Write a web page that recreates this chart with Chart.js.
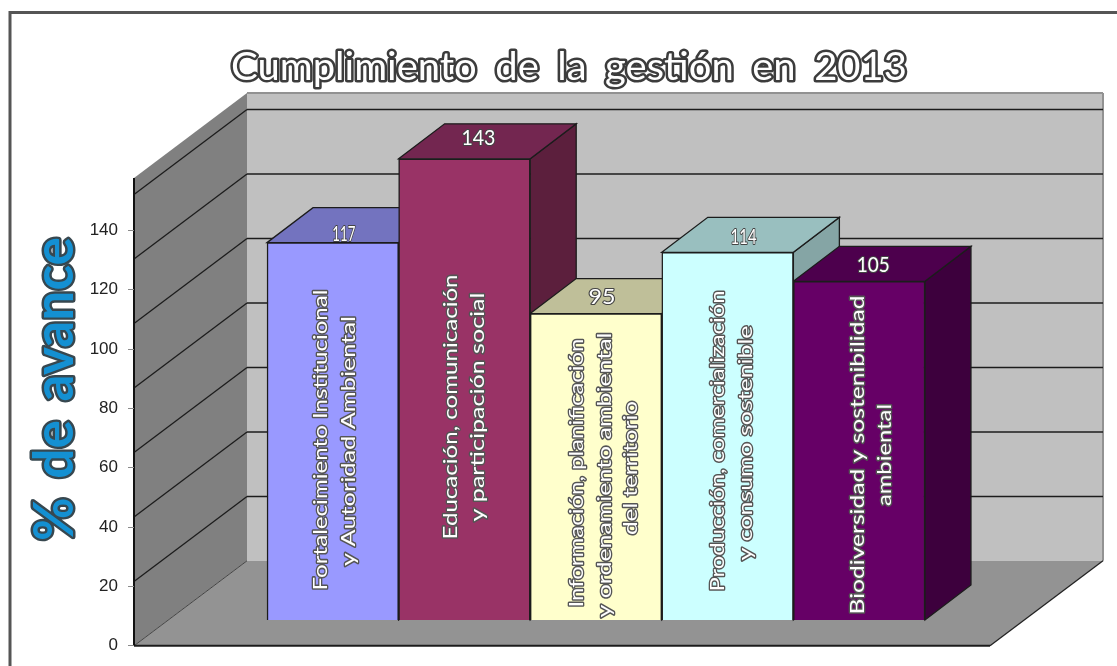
<!DOCTYPE html>
<html lang="es">
<head>
    <meta charset="UTF-8">
    <title>Cumplimiento de la gestión en 2013</title>
    <script src="https://cdn.jsdelivr.net/npm/chart.js"></script>
    <style>
        body { margin: 0; background: #fff; }
        canvas { display: block; }
    </style>
</head>
<body>
    <canvas id="gestion" width="1117" height="666"></canvas>

    <script>
        // Data
        const categories = [
            ['Fortalecimiento Institucional', 'y Autoridad Ambiental'],
            ['Educación, comunicación', 'y participación social'],
            ['Información, planificación', 'y ordenamiento ambiental', 'del territorio'],
            ['Producción, comercialización', 'y consumo sostenible'],
            ['Biodiversidad y sostenibilidad', 'ambiental']
        ];
        const avance = [117, 143, 95, 114, 105];
        const axisTicks = [0, 20, 40, 60, 80, 100, 120, 140];
        const gridValues = [20, 40, 60, 80, 100, 120, 140];

        // Bar colours: front, top face, side face
        const frontColors = ['#9999ff', '#993366', '#ffffcc', '#ccffff', '#660066'];
        const topColors = ['#7373bf', '#732650', '#bfbf99', '#99bfbf', '#4d004d'];
        const sideColors = ['#5b5b99', '#5c1f3d', '#99997a', '#85a5a5', '#3d003d'];

        // 3D box settings
        const wallDepth = { dx: 113, dy: -85 };
        const barDepth = { dx: 46, dy: -35 };
        const barsToBackWall = -59;

        // Text inside each bar: baseline offset from bar centre, vertical centre, line lengths
        const barText = [
            { offsets: [-6, 22], centers: [440, 441], lengths: [301, 250] },
            { offsets: [-7, 20], centers: [407, 407], lengths: [265, 229] },
            { offsets: [-13, 15, 41], centers: [473, 475, 468], lengths: [269, 285, 134] },
            { offsets: [-4, 24], centers: [441, 443], lengths: [301, 235] },
            { offsets: [5, 32], centers: [455, 455], lengths: [319, 102] }
        ];
        // Value on the top face: centre x shift, baseline y shift from bar top, width
        const valueText = [
            { dx: 11, dy: -2, width: 23 },
            { dx: 14, dy: -14, width: 34 },
            { dx: 6, dy: -10, width: 27 },
            { dx: 16, dy: -8, width: 26 },
            { dx: 14, dy: -9, width: 33 }
        ];

        function polygon(ctx, points, fill, stroke, lineWidth) {
            ctx.beginPath();
            points.forEach((p, i) => i ? ctx.lineTo(p[0], p[1]) : ctx.moveTo(p[0], p[1]));
            ctx.closePath();
            ctx.fillStyle = fill;
            ctx.fill();
            if (stroke) {
                ctx.strokeStyle = stroke;
                ctx.lineWidth = lineWidth;
                ctx.stroke();
            }
        }

        function line(ctx, x1, y1, x2, y2, color, width) {
            ctx.beginPath();
            ctx.moveTo(x1, y1);
            ctx.lineTo(x2, y2);
            ctx.strokeStyle = color;
            ctx.lineWidth = width;
            ctx.stroke();
        }

        // Outlined text stretched to a given length, centred on x along its direction
        function outlinedText(ctx, text, x, y, length, opts) {
            ctx.save();
            ctx.translate(x, y);
            if (opts.vertical) ctx.rotate(-Math.PI / 2);
            ctx.font = opts.font;
            ctx.wordSpacing = opts.wordSpacing || '0px';
            ctx.textAlign = 'center';
            ctx.textBaseline = 'alphabetic';
            ctx.lineJoin = 'round';
            ctx.scale(length / ctx.measureText(text).width, 1);
            ctx.strokeStyle = opts.stroke;
            ctx.lineWidth = opts.lineWidth;
            ctx.strokeText(text, 0, 0);
            ctx.fillStyle = opts.fill;
            ctx.fillText(text, 0, 0);
            ctx.restore();
        }

        const boxPlugin = {
            id: 'box3d',
            beforeDraw(chart) {
                const { ctx, chartArea: area, scales } = chart;
                const { dx, dy } = wallDepth;
                const backLeft = area.left + dx;
                const floorBack = area.bottom + dy;
                const frontRight = area.right - dx;

                ctx.save();
                // Outer frame
                ctx.beginPath();
                ctx.moveTo(10, 666);
                ctx.lineTo(10, 12.5);
                ctx.lineTo(1117, 12.5);
                ctx.strokeStyle = '#555555';
                ctx.lineWidth = 3;
                ctx.stroke();

                // Back wall, side wall, floor
                polygon(ctx, [[backLeft, area.top], [area.right, area.top], [area.right, floorBack], [backLeft, floorBack]], '#c0c0c0');
                polygon(ctx, [[area.left, area.top - dy], [backLeft, area.top], [backLeft, floorBack], [area.left, area.bottom]], '#808080');
                polygon(ctx, [[area.left, area.bottom], [backLeft, floorBack], [area.right, floorBack], [frontRight, area.bottom]], '#939393');

                line(ctx, backLeft, area.top, area.right, area.top, '#929292', 2);
                line(ctx, area.right, area.top, area.right, floorBack, '#929292', 2);

                // Gridlines follow the bar scale, shifted back to the wall
                gridValues.forEach(v => {
                    const y = scales.y.getPixelForValue(v) + barsToBackWall;
                    line(ctx, backLeft, y, area.right, y, '#1c1c1c', 1.5);
                    line(ctx, area.left, y - dy, backLeft, y, '#1c1c1c', 1.3);
                });

                // Box edges
                line(ctx, area.left, area.bottom, backLeft, floorBack, '#444444', 1);
                line(ctx, frontRight, area.bottom, area.right, floorBack, '#222222', 1.3);
                line(ctx, area.left, area.bottom, frontRight, area.bottom, '#1c1c1c', 2);
                line(ctx, area.left, area.top - dy, area.left, area.bottom, '#111111', 2);
                ctx.restore();
            },
            beforeDatasetsDraw(chart) {
                const { ctx } = chart;
                const { dx, dy } = barDepth;
                ctx.save();
                chart.getDatasetMeta(0).data.forEach((bar, i) => {
                    const left = bar.x - bar.width / 2;
                    const right = bar.x + bar.width / 2;
                    polygon(ctx, [[right, bar.y], [right + dx, bar.y + dy], [right + dx, bar.base + dy], [right, bar.base]], sideColors[i], '#1c1c1c', 1.3);
                    polygon(ctx, [[left, bar.y], [left + dx, bar.y + dy], [right + dx, bar.y + dy], [right, bar.y]], topColors[i], '#1c1c1c', 1.3);
                });
                ctx.restore();
            },
            afterDatasetsDraw(chart) {
                const { ctx } = chart;
                const barFont = '20px Lato';

                chart.getDatasetMeta(0).data.forEach((bar, i) => {
                    categories[i].forEach((text, j) => {
                        const place = barText[i];
                        outlinedText(ctx, text, bar.x + place.offsets[j], place.centers[j], place.lengths[j], {
                            vertical: true, font: barFont, fill: '#ffffff', stroke: '#555555', lineWidth: 2.6
                        });
                    });
                    const val = valueText[i];
                    outlinedText(ctx, String(avance[i]), bar.x + val.dx, bar.y + val.dy, val.width, {
                        font: '22px Lato', fill: '#ffffff', stroke: '#444444', lineWidth: 2.2
                    });
                });

                // Chart title and axis title
                outlinedText(ctx, 'Cumplimiento de la gestión en 2013', 569, 80, 676, {
                    font: '39px Lato', wordSpacing: '8px', fill: '#ffffff', stroke: '#3c3c3c', lineWidth: 5
                });
                outlinedText(ctx, '% de avance', 73, 389, 304, {
                    vertical: true, font: 'bold 56px Lato', wordSpacing: '6px', fill: '#1490d2', stroke: '#37474f', lineWidth: 5
                });
            }
        };

        new Chart(document.getElementById('gestion'), {
            type: 'bar',
            data: {
                datasets: [{
                    data: avance.map((value, i) => ({ x: i, y: value })),
                    xAxisID: 'x',
                    yAxisID: 'y',
                    backgroundColor: frontColors,
                    borderColor: '#1c1c1c',
                    borderWidth: 1.5,
                    barPercentage: 1,
                    categoryPercentage: 1
                }]
            },
            options: {
                responsive: false,
                animation: false,
                layout: { padding: { left: 0, top: 93, right: 14, bottom: 15.5 } },
                plugins: { legend: { display: false }, tooltip: { enabled: false } },
                scales: {
                    // Bars sit 132 px apart from x = 267 onwards
                    x: {
                        type: 'linear',
                        display: false,
                        offset: false,
                        min: -1.511,
                        max: 5.853,
                        afterBuildTicks(scale) {
                            scale.ticks = categories.map((c, i) => ({ value: i }));
                        }
                    },
                    // Bars rise 3.237 px per unit from y = 622
                    y: { type: 'linear', display: false, min: -8.03, max: 163.4 },
                    // Printed axis: 0 at the front floor edge
                    axis: {
                        type: 'linear',
                        position: 'left',
                        min: 0,
                        max: 186.3,
                        afterBuildTicks(scale) {
                            scale.ticks = axisTicks.map(value => ({ value }));
                        },
                        afterFit(scale) {
                            scale.width = 134;
                        },
                        border: { display: false },
                        grid: { drawOnChartArea: false, color: '#8a8a8a', tickLength: 6 },
                        ticks: {
                            color: '#222222',
                            padding: 10,
                            font: { family: '"Liberation Sans"', size: 17 }
                        }
                    }
                }
            },
            plugins: [boxPlugin]
        });
    </script>
</body>
</html>
